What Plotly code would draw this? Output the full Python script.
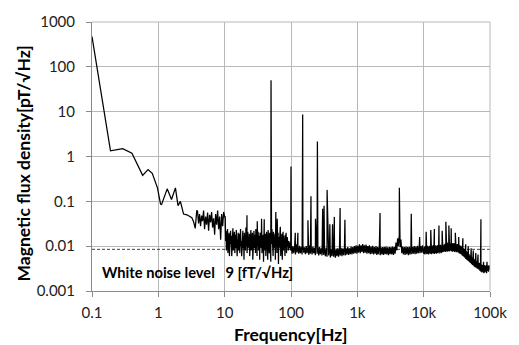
import numpy as np
import plotly.graph_objects as go

# ---------------- data (frequency in Hz, flux density in pT/sqrt(Hz)) ----------------
low_freq = [0.1, 0.19, 0.29, 0.40, 0.58, 0.70, 0.81, 0.91, 0.97, 1.08, 1.12, 1.36, 1.58,
            1.81, 1.98, 2.15, 2.4, 2.7, 3.0, 3.2, 3.4, 3.6, 3.8]
low_val = [475, 1.34, 1.5, 1.19, 0.38, 0.51, 0.42, 0.26, 0.20, 0.087, 0.085, 0.19, 0.11,
           0.20, 0.08, 0.10, 0.052, 0.05, 0.045, 0.043, 0.035, 0.025, 0.063]

# noise segments: values in fT/sqrt(Hz), [start Hz, end Hz]
seg_b_range = [3.9, 10.0]
seg_b_fT = "60 32 52 28 48 36 62 24 46 30 56 22 50 34 58 26 42 18 52 30 62 24 46 14 52 28 58 45"

seg_c_range = [10.2, 99.0]
seg_c_fT = ("45 13 22 8 18 10 24 7 16 12 20 6 14 9 22 11 17 6 19 12 25 8 15 10 21 7 13 18 9 23 "
            "11 6 17 14 20 8 12 19 7 15 24 10 13 6 18 11 22 9 16 5 20 12 14 8 26 10 17 7 13 21 "
            "9 15 11 19 6 18 12 23 8 14 10 20 5 16 13 22 9 12 18 7 24 11 15 6 19 10 21 8 13 17 "
            "5 20 12 16 9 25 7 14 11 18 4.5 22 10 15 8 19 6 13 21 9 17 5 23 12 14 7 20 10 16 4.5 "
            "18 11 24 8 13 6 21 9 15 12 19 5 17 10 22 7 14 11 20 4 16 9 18 12 23 6 15 10 19 5 "
            "13 21 8 17 11 14 6 18 9 20 7 12 16 10 15 8 13 11 9 12 10 8")

seg_d_range = [101.0, 9900.0]
seg_d_fT = ("10.5 6.8 10 7 9.8 6.5 11 7.2 9.5 6.8 10.2 7 9.6 6.5 10.5 7.2 9.4 6.6 10 7 9.2 6.4 "
            "10.3 6.8 9.5 6.5 9.8 7 9.2 6.3 10 6.8 9.4 6.2 9.6 6.6 9 6.2 9.5 6.4 "
            "8.8 6 9.2 5.8 8.6 6.2 9 5.6 8.5 6 9.3 5.8 8.4 5.5 8.8 6 9 5.8 8.5 6.2 9.2 6 8.8 6.3 "
            "9.4 6.2 8.9 6.5 9.5 6.4 9 6.6 9.8 6.5 9.6 "
            "6.8 10 7 10.5 6.8 10.2 7.2 11 7 10.5 7.4 11.2 7 10.4 7.2 10.8 6.8 10 7 10.5 6.6 9.8 "
            "6.8 10.2 6.5 9.6 6.8 10 6.4 9.5 6.6 9.8 6.3 9.4 6.5 9.6 6.4 9.5 6.6 9.8 6.5 9.4 6.3 9.6 6.6 "
            "9.5 6.5 9.8 6.4 9.6 6.8 12 8 15 10 18 9.5 14 7 9.8 6.5 9.6 6.4 9.8 6.6 9.5 6.3 9.7 "
            "6.5 9.9 6.6 9.5 6.8 10 6.6 9.8 6.8 10.2 7 9.8 7 10 7.2 10.4 7.2")

seg_e_range = [10100.0, 100000.0]
seg_e_fT = ("6.8 9.8 6.5 10 7 9.6 6.6 10.2 6.8 9.8 6.5 10 7 10.3 6.8 9.7 6.6 10 7 10.4 6.9 9.9 "
            "6.7 10.2 7.1 10.5 6.8 10 7 10.6 7.2 10.2 6.9 10.4 7.3 10.8 7 10.3 7.2 10.7 7.4 10.5 "
            "7.5 11 7.6 11.5 7.4 11.2 7.8 12 7.5 11.4 7.8 12.2 7.6 11.6 8 12 7.7 11.8 7.5 11.5 "
            "7.8 11.8 7.4 11.2 7.6 11.4 7.3 11 7.5 11.2 7.2 10.8 7 10.5 "
            "6.8 10.2 6.6 9.8 6.3 9.5 6 9 5.8 8.6 5.5 8.2 5.2 7.8 5 7.4 4.8 7 4.6 6.6 4.4 6.2 "
            "4.2 5.9 4 5.6 3.8 5.4 3.7 5.2 3.5 5 3.4 4.8 3.3 4.6 3.2 4.4 3.1 4.3 3 4.2 "
            "2.8 4 2.7 3.9 2.6 3.8 2.7 3.7 2.5 3.8 2.6 3.6 2.7 3.8 2.5 3.7 2.8 3.6 2.7 3.8 3 3.6")

# narrow spectral lines (Hz, pT/sqrt(Hz))
spike_freq = [21.7, 31, 36, 39.5, 50, 59, 62, 69, 100, 116, 127, 150, 180, 200, 234, 250,
              300, 315, 350, 385, 423, 450, 550, 650, 2200, 4300, 6500, 8700,
              10900, 12800, 14500, 17000, 19000, 21600, 24000, 26000, 30000, 33700, 39000,
              43000, 47000, 52000, 56000, 61000, 66000, 73000, 80000, 90000]
spike_val = [0.049, 0.036, 0.041, 0.040, 50, 0.058, 0.041, 0.027, 0.6, 0.02, 0.02, 8.6, 0.038,
             0.13, 0.041, 2.15, 0.068, 0.08, 0.18, 0.031, 0.031, 0.045, 0.071, 0.039, 0.055,
             0.2, 0.053, 0.016, 0.021, 0.023, 0.024, 0.029, 0.022, 0.035, 0.029, 0.025, 0.02,
             0.016, 0.015, 0.011, 0.010, 0.009, 0.008, 0.007, 0.0065, 0.04, 0.0045, 0.0045]

white_level = 0.0085
white_label = "White noise level\u00a0\u00a0\u00a09 [fT/\u221aHz]"

x_ticks = [0.1, 1, 10, 100, 1000, 10000, 100000]
x_tick_text = ["0.1", "1", "10", "100", "1k", "10k", "100k"]
y_ticks = [0.001, 0.01, 0.1, 1, 10, 100, 1000]
y_tick_text = ["0.001", "0.01", "0.1", "1", "10", "100", "1000"]

# ---------------- assemble the spectrum ----------------
freqs = list(low_freq)
vals = list(low_val)
for rng, s in [(seg_b_range, seg_b_fT), (seg_c_range, seg_c_fT),
               (seg_d_range, seg_d_fT), (seg_e_range, seg_e_fT)]:
    v = [float(t) * 1e-3 for t in s.split()]
    f = np.geomspace(rng[0], rng[1], len(v))
    freqs.extend(f.tolist())
    vals.extend(v)
freqs.extend(spike_freq)
vals.extend(spike_val)
order = np.argsort(freqs, kind="stable")
freqs = np.array(freqs)[order]
vals = np.array(vals)[order]

FONT = "Lato"
fig = go.Figure()
fig.add_trace(go.Scatter(x=[x_ticks[0], x_ticks[-1]], y=[white_level, white_level],
                         mode="lines", line=dict(color="#404040", width=1, dash="3px,2px"),
                         hoverinfo="skip"))
fig.add_trace(go.Scatter(x=freqs, y=vals, mode="lines",
                         line=dict(color="black", width=1.25)))

grid = "#b8b8b8"
axis_line = "#8a8a8a"
tick_font = dict(family=FONT, size=15, color="#222")
fig.update_layout(
    width=519, height=345,
    margin=dict(l=92, r=24, t=17, b=54),
    paper_bgcolor="white", plot_bgcolor="white",
    showlegend=False,
    font=dict(family=FONT, size=15, color="black"),
    xaxis=dict(type="log", range=[-1, 5], tickvals=x_ticks, ticktext=x_tick_text,
               showgrid=True, gridcolor=grid, gridwidth=1,
               showline=True, linecolor=axis_line, linewidth=1,
               ticks="outside", ticklen=5, tickcolor=axis_line,
               ticklabelstandoff=3, zeroline=False, tickfont=tick_font),
    yaxis=dict(type="log", range=[-3, 3], tickvals=y_ticks, ticktext=y_tick_text,
               showgrid=True, gridcolor=grid, gridwidth=1,
               showline=True, linecolor=axis_line, linewidth=1,
               ticks="outside", ticklen=5, tickcolor=axis_line,
               ticklabelstandoff=8, zeroline=False, tickfont=tick_font),
    shapes=[
        dict(type="line", xref="paper", yref="paper", x0=0, x1=1, y0=1, y1=1,
             line=dict(color=grid, width=1)),
        dict(type="line", xref="paper", yref="paper", x0=1, x1=1, y0=0, y1=1,
             line=dict(color=grid, width=1)),
    ],
    annotations=[
        dict(text="<b>Magnetic flux density[pT/\u221aHz]</b>", xref="paper", yref="paper",
             x=-0.171, y=0.474, textangle=-90, showarrow=False,
             xanchor="center", yanchor="middle", font=dict(family=FONT, size=17.5)),
        dict(text="<b>Frequency[Hz]</b>", xref="paper", yref="paper",
             x=0.498, y=-0.16, showarrow=False, xanchor="center", yanchor="middle",
             font=dict(family=FONT, size=17.5)),
        dict(text="<b>" + white_label + "</b>", xref="paper", yref="paper",
             x=0.02, y=0.07, showarrow=False, xanchor="left", yanchor="middle",
             font=dict(family=FONT, size=14.7)),
    ],
)

fig.write_html("out.html", config={"displayModeBar": False},
               post_script="document.body.style.margin='0';")
